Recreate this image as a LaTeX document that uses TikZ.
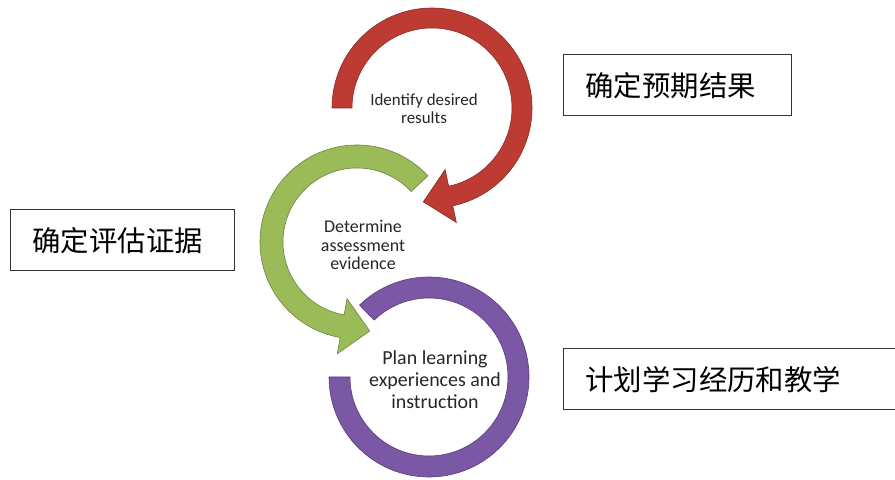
\documentclass[tikz,border=0pt]{standalone}
\usepackage{fontspec}
\setmainfont{Carlito}
\newfontfamily\cjk{Noto Sans CJK SC}
\usetikzlibrary{calc}
\definecolor{stepred}{HTML}{BE3B34}
\definecolor{stepgreen}{HTML}{9BBB59}
\definecolor{steppurple}{HTML}{7B58A6}

\begin{document}
\begin{tikzpicture}[x=1bp, y=1bp,
    cnbox/.style={draw=black!80, line width=1bp, anchor=west, minimum height=61bp,
      inner xsep=22bp, inner ysep=0pt, align=left, font=\cjk\fontsize{28.5}{30}\selectfont},
    stage/.style={align=center, text=black!85, inner sep=0pt}]
    \useasboundingbox (0,0) rectangle (895,480);
    \clip (0,0) rectangle (895,480);

    % --- Arrow 3: purple ring (no head) ---
    \coordinate (P) at (429,103);
    \path[fill=steppurple, draw=steppurple!70!black, line width=0.6bp]
      ($(P)+(134:100)$) arc[start angle=134, end angle=-180, radius=100]
      -- ($(P)+(180:79)$) arc[start angle=-180, end angle=134, radius=79] -- cycle;

    % --- Arrow 2: green, turning anticlockwise ---
    \coordinate (G) at (357,238);
    \path[fill=stepgreen, draw=stepgreen!70!black, line width=0.6bp]
      ($(G)+(43:97)$) arc[start angle=43, end angle=260, radius=97]
      -- ($(G)+(260:113.5)$) -- ($(G)+(260:85.5)+(350:28)$) -- ($(G)+(260:57.5)$)
      -- ($(G)+(260:74)$) arc[start angle=260, end angle=43, radius=74] -- cycle;

    % --- Arrow 1: red, turning clockwise ---
    \coordinate (R) at (432,372);
    \path[fill=stepred, draw=stepred!70!black, line width=0.6bp]
      ($(R)+(180:100)$) arc[start angle=180, end angle=-78, radius=100]
      -- ($(R)+(-78:117)$) -- ($(R)+(-78:90)+(-168:28)$) -- ($(R)+(-78:63)$)
      -- ($(R)+(-78:80)$) arc[start angle=-78, end angle=180, radius=80] -- cycle;

    % --- Stage texts ---
    \node[stage, font=\fontsize{17}{18}\selectfont] (identify) at (424,371) {Identify desired\\results};
    \node[stage, font=\fontsize{18}{18.5}\selectfont] (determine) at (363,235) {Determine\\assessment\\evidence};
    \node[stage, font=\fontsize{20}{22}\selectfont] (plan) at (435,100) {Plan learning\\experiences and\\instruction};

    % --- Chinese boxes ---
    \node[cnbox, text width=184bp] (goal) at (563,394.5) {确定预期结果};
    \node[cnbox, text width=180bp] (proof) at (10,239.5) {确定评估证据};
    \node[cnbox, text width=291bp] (lesson) at (563,100.5) {计划学习经历和教学};

\end{tikzpicture}
\end{document}
